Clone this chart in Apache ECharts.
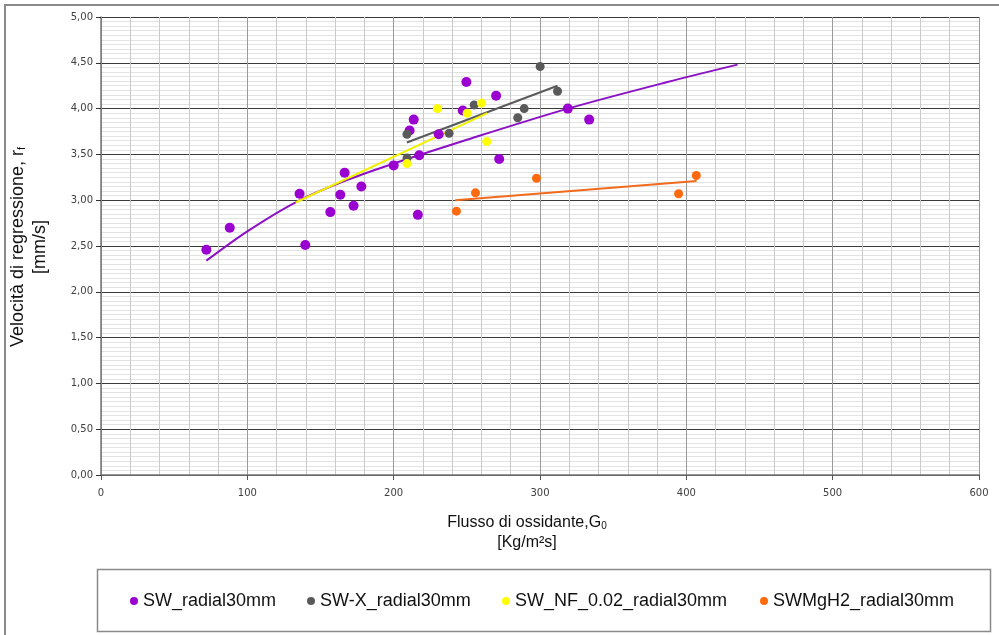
<!DOCTYPE html>
<html>
<head>
<meta charset="utf-8">
<script src="https://cdn.jsdelivr.net/npm/echarts@6/dist/echarts.min.js"></script>
<style>
  html, body { margin: 0; padding: 0; background: #fff; }
  #chart { width: 999px; height: 635px; }
</style>
</head>
<body>
<div id="chart"></div>
<script>
// Oxidizer mass flux G0 [kg/m²s] and regression rate rf [mm/s] per fuel grain
const swG0 = [72, 88, 139.6, 135.7, 166.5, 163.5, 156.7, 172.6, 177.9, 200, 213.7, 210.9, 216.5, 217.5, 230.8, 247.2, 249.7, 270, 272.1, 319, 333.6];
const swRf = [2.46, 2.70, 2.51, 3.07, 3.30, 3.06, 2.87, 2.94, 3.15, 3.38, 3.88, 3.76, 2.84, 3.49, 3.72, 3.98, 4.29, 4.14, 3.45, 4.00, 3.88];

const swxG0 = [209.1, 209.1, 237.9, 255, 284.8, 289.2, 300.1, 312];
const swxRf = [3.72, 3.46, 3.73, 4.04, 3.90, 4.00, 4.46, 4.19];

const swnfG0 = [209.1, 229.9, 250.2, 260, 263.6];
const swnfRf = [3.40, 4.00, 3.95, 4.06, 3.64];

const mgG0 = [242.9, 255.9, 297.6, 394.7, 406.8];
const mgRf = [2.88, 3.08, 3.24, 3.07, 3.27];

// Trend lines (power fit for SW, linear fits for the others)
const swTrendG0 = [72, 100, 134, 168, 200, 250, 319, 387, 435];
const swTrendRf = [2.34, 2.66, 2.985, 3.22, 3.40, 3.66, 4.00, 4.29, 4.48];
const swxTrendG0 = [209, 312];
const swxTrendRf = [3.63, 4.25];
const swnfTrendG0 = [133, 264];
const swnfTrendRf = [2.975, 3.95];
const mgTrendG0 = [242, 407];
const mgTrendRf = [3.00, 3.21];

const seriesNames = ['SW_radial30mm', 'SW-X_radial30mm', 'SW_NF_0.02_radial30mm', 'SWMgH2_radial30mm'];
const colors = ['#9A00CF', '#5A5A5A', '#FFFF00', '#FF6A0F'];
const lineColors = ['#8C10C4', '#5A5A5A', '#F2F200', '#F26A1B'];

const xTicks = [0, 100, 200, 300, 400, 500, 600];

const pair = (xs, ys) => xs.map((x, i) => [x, ys[i]]);

const pointSets = [pair(swG0, swRf), pair(swxG0, swxRf), pair(swnfG0, swnfRf), pair(mgG0, mgRf)];
const trendSets = [pair(swTrendG0, swTrendRf), pair(swxTrendG0, swxTrendRf), pair(swnfTrendG0, swnfTrendRf), pair(mgTrendG0, mgTrendRf)];

const FONT = "'Liberation Sans', Arial, sans-serif";
const TICKFONT = "'DejaVu Sans', Verdana, sans-serif";

const chart = echarts.init(document.getElementById('chart'), null, { renderer: 'canvas' });

const series = [];
trendSets.forEach((d, i) => {
  series.push({
    name: seriesNames[i] + ' trend',
    type: 'line',
    data: d,
    smooth: i === 0 ? 0.3 : false,
    showSymbol: false,
    symbol: 'none',
    silent: true,
    z: 2,
    lineStyle: { color: lineColors[i], width: 2 }
  });
});
pointSets.forEach((d, i) => {
  series.push({
    name: seriesNames[i],
    type: 'scatter',
    data: d,
    symbol: 'circle',
    symbolSize: i === 0 ? 10 : 9,
    z: 3 + i,
    itemStyle: { color: colors[i], opacity: 1 }
  });
});

const legendLefts = [130, 307, 502, 760];
const legends = seriesNames.map((n, i) => ({
  data: [{ name: n, icon: 'circle' }],
  left: legendLefts[i],
  top: 591,
  padding: 0,
  itemWidth: 8,
  itemHeight: 8,
  itemGap: 0,
  selectedMode: false,
  textStyle: { fontFamily: FONT, fontSize: 18, color: '#111', lineHeight: 20 }
}));

chart.setOption({
  animation: false,
  backgroundColor: '#fff',
  grid: { left: 101, right: 20, top: 17, bottom: 160, containLabel: false },
  legend: legends,
  xAxis: {
    type: 'value',
    min: xTicks[0],
    max: xTicks[xTicks.length - 1],
    interval: 100,
    axisLine: { show: true, onZero: false, lineStyle: { color: '#777', width: 1.5 } },
    axisTick: { show: true, inside: false, length: 5, lineStyle: { color: '#555' } },
    axisLabel: { margin: 13, fontFamily: TICKFONT, fontSize: 10, color: '#404040' },
    splitLine: { show: true, lineStyle: { color: '#9a9a9a', width: 1 } },
    minorTick: { show: false, splitNumber: 5 },
    minorSplitLine: { show: true, lineStyle: { color: '#cacaca', width: 1 } }
  },
  yAxis: {
    type: 'value',
    min: 0,
    max: 5,
    interval: 0.5,
    axisLine: { show: true, onZero: false, lineStyle: { color: '#777', width: 1.5 } },
    axisTick: { show: true, inside: false, length: 5, lineStyle: { color: '#333' } },
    axisLabel: {
      margin: 8,
      fontFamily: TICKFONT,
      fontSize: 10,
      color: '#404040',
      formatter: v => v.toFixed(2).replace('.', ',')
    },
    splitLine: { show: true, lineStyle: { color: '#3a3a3a', width: 1 } },
    minorTick: { show: false, splitNumber: 10 },
    minorSplitLine: { show: true, lineStyle: { color: '#e2e2e2', width: 1 } }
  },
  series: series,
  graphic: [
    // outer chart frame (top and left edges)
    { type: 'polyline', shape: { points: [[5, 635], [5, 5], [999, 5]] }, style: { stroke: '#8a8a8a', lineWidth: 2, fill: null }, silent: true },
    // legend box
    { type: 'rect', shape: { x: 97.5, y: 569.5, width: 893, height: 62 }, style: { stroke: '#8a8a8a', lineWidth: 1.5, fill: null }, silent: true, z: -1 },
    // y-axis title
    {
      type: 'text', x: 18, y: 247, rotation: Math.PI / 2, silent: true,
      style: {
        text: '{m|Velocità di regressione, r}{s|f}',
        align: 'center', verticalAlign: 'middle',
        rich: {
          m: { fontFamily: FONT, fontSize: 18, fill: '#111', lineHeight: 20 },
          s: { fontFamily: FONT, fontSize: 11, fill: '#111', lineHeight: 20, padding: [8, 0, 0, 0] }
        }
      }
    },
    {
      type: 'text', x: 40, y: 247, rotation: Math.PI / 2, silent: true,
      style: { text: '[mm/s]', align: 'center', verticalAlign: 'middle', fontFamily: FONT, fontSize: 18, fill: '#111' }
    },
    // x-axis title
    {
      type: 'text', x: 527, y: 523, silent: true,
      style: {
        text: '{m|Flusso di ossidante,G}{s|0}',
        align: 'center', verticalAlign: 'middle',
        rich: {
          m: { fontFamily: FONT, fontSize: 16, fill: '#111', lineHeight: 18 },
          s: { fontFamily: FONT, fontSize: 10, fill: '#111', lineHeight: 18, padding: [7, 0, 0, 0] }
        }
      }
    },
    {
      type: 'text', x: 527, y: 543, silent: true,
      style: { text: '[Kg/m²s]', align: 'center', verticalAlign: 'middle', fontFamily: FONT, fontSize: 16, fill: '#111' }
    }
  ]
});
</script>
</body>
</html>
